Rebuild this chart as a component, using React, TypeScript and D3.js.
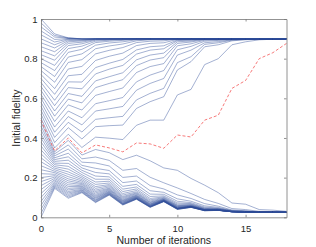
import * as d3 from 'd3';
import { useEffect, useRef } from 'react';

const iterations = [0, 1, 2, 3, 4, 5, 6, 7, 8, 9, 10, 11, 12, 13, 14, 15, 16, 17, 18];

// runs that climb to ~0.9 (initial fidelity 0.50 .. 1.00)
const upperRuns: number[][] = [
  [0.5, 0.35, 0.419, 0.352, 0.404, 0.399, 0.392, 0.464, 0.49, 0.49, 0.617, 0.645, 0.77, 0.8, 0.87, 0.885, 0.895, 0.898, 0.9],
  [0.52, 0.377, 0.452, 0.395, 0.457, 0.462, 0.465, 0.549, 0.583, 0.608, 0.743, 0.785, 0.86, 0.87, 0.89, 0.895, 0.898, 0.9, 0.9],
  [0.54, 0.403, 0.479, 0.43, 0.494, 0.502, 0.509, 0.592, 0.625, 0.65, 0.78, 0.81, 0.872, 0.88, 0.893, 0.897, 0.9, 0.9, 0.9],
  [0.56, 0.429, 0.508, 0.466, 0.536, 0.547, 0.559, 0.641, 0.675, 0.7, 0.818, 0.843, 0.88, 0.886, 0.895, 0.898, 0.9, 0.9, 0.9],
  [0.58, 0.455, 0.536, 0.502, 0.573, 0.588, 0.604, 0.683, 0.717, 0.74, 0.845, 0.862, 0.888, 0.892, 0.897, 0.9, 0.9, 0.9, 0.9],
  [0.6, 0.483, 0.567, 0.541, 0.615, 0.634, 0.652, 0.73, 0.76, 0.775, 0.865, 0.875, 0.893, 0.895, 0.898, 0.9, 0.9, 0.9, 0.9],
  [0.62, 0.51, 0.596, 0.577, 0.654, 0.675, 0.694, 0.765, 0.793, 0.805, 0.877, 0.884, 0.896, 0.897, 0.9, 0.9, 0.9, 0.9, 0.9],
  [0.64, 0.536, 0.624, 0.61, 0.688, 0.709, 0.729, 0.794, 0.818, 0.828, 0.885, 0.889, 0.898, 0.9, 0.9, 0.9, 0.9, 0.9, 0.9],
  [0.66, 0.563, 0.654, 0.648, 0.723, 0.747, 0.766, 0.823, 0.843, 0.85, 0.891, 0.893, 0.899, 0.9, 0.9, 0.9, 0.9, 0.9, 0.9],
  [0.68, 0.59, 0.683, 0.682, 0.755, 0.777, 0.796, 0.844, 0.86, 0.865, 0.894, 0.896, 0.9, 0.9, 0.9, 0.9, 0.9, 0.9, 0.9],
  [0.7, 0.62, 0.714, 0.721, 0.791, 0.812, 0.828, 0.866, 0.877, 0.88, 0.897, 0.898, 0.9, 0.9, 0.9, 0.9, 0.9, 0.9, 0.9],
  [0.72, 0.649, 0.748, 0.761, 0.824, 0.842, 0.856, 0.881, 0.888, 0.89, 0.899, 0.9, 0.9, 0.9, 0.9, 0.9, 0.9, 0.9, 0.9],
  [0.74, 0.681, 0.781, 0.795, 0.85, 0.864, 0.874, 0.89, 0.895, 0.896, 0.9, 0.9, 0.9, 0.9, 0.9, 0.9, 0.9, 0.9, 0.9],
  [0.76, 0.71, 0.808, 0.824, 0.868, 0.879, 0.885, 0.895, 0.897, 0.898, 0.9, 0.9, 0.9, 0.9, 0.9, 0.9, 0.9, 0.9, 0.9],
  [0.78, 0.74, 0.832, 0.847, 0.881, 0.888, 0.892, 0.898, 0.899, 0.9, 0.9, 0.9, 0.9, 0.9, 0.9, 0.9, 0.9, 0.9, 0.9],
  [0.8, 0.766, 0.851, 0.863, 0.888, 0.893, 0.896, 0.899, 0.9, 0.9, 0.9, 0.9, 0.9, 0.9, 0.9, 0.9, 0.9, 0.9, 0.9],
  [0.82, 0.792, 0.866, 0.875, 0.893, 0.896, 0.898, 0.9, 0.9, 0.9, 0.9, 0.9, 0.9, 0.9, 0.9, 0.9, 0.9, 0.9, 0.9],
  [0.84, 0.814, 0.877, 0.883, 0.896, 0.898, 0.899, 0.9, 0.9, 0.9, 0.9, 0.9, 0.9, 0.9, 0.9, 0.9, 0.9, 0.9, 0.9],
  [0.86, 0.835, 0.885, 0.889, 0.898, 0.899, 0.9, 0.9, 0.9, 0.9, 0.9, 0.9, 0.9, 0.9, 0.9, 0.9, 0.9, 0.9, 0.9],
  [0.88, 0.854, 0.891, 0.893, 0.899, 0.9, 0.9, 0.9, 0.9, 0.9, 0.9, 0.9, 0.9, 0.9, 0.9, 0.9, 0.9, 0.9, 0.9],
  [0.9, 0.87, 0.896, 0.895, 0.9, 0.9, 0.9, 0.9, 0.9, 0.9, 0.9, 0.9, 0.9, 0.9, 0.9, 0.9, 0.9, 0.9, 0.9],
  [0.92, 0.884, 0.899, 0.898, 0.9, 0.9, 0.9, 0.9, 0.9, 0.9, 0.9, 0.9, 0.9, 0.9, 0.9, 0.9, 0.9, 0.9, 0.9],
  [0.94, 0.897, 0.901, 0.9, 0.9, 0.9, 0.9, 0.9, 0.9, 0.9, 0.9, 0.9, 0.9, 0.9, 0.9, 0.9, 0.9, 0.9, 0.9],
  [0.96, 0.909, 0.903, 0.9, 0.9, 0.9, 0.9, 0.9, 0.9, 0.9, 0.9, 0.9, 0.9, 0.9, 0.9, 0.9, 0.9, 0.9, 0.9],
  [0.98, 0.917, 0.904, 0.9, 0.9, 0.9, 0.9, 0.9, 0.9, 0.9, 0.9, 0.9, 0.9, 0.9, 0.9, 0.9, 0.9, 0.9, 0.9],
  [1, 0.925, 0.905, 0.9, 0.9, 0.9, 0.9, 0.9, 0.9, 0.9, 0.9, 0.9, 0.9, 0.9, 0.9, 0.9, 0.9, 0.9, 0.9],
];

// runs that sink towards ~0.025 (initial fidelity 0.48 .. 0)
const lowerRuns: number[][] = [
  [0.48, 0.33, 0.388, 0.314, 0.342, 0.326, 0.291, 0.313, 0.285, 0.249, 0.237, 0.196, 0.162, 0.124, 0.072, 0.066, 0.039, 0.036, 0.03],
  [0.46, 0.32, 0.365, 0.295, 0.304, 0.287, 0.237, 0.246, 0.202, 0.174, 0.148, 0.12, 0.09, 0.07, 0.044, 0.039, 0.03, 0.029, 0.027],
  [0.44, 0.31, 0.344, 0.278, 0.274, 0.259, 0.201, 0.208, 0.16, 0.143, 0.113, 0.095, 0.069, 0.056, 0.037, 0.033, 0.027, 0.027, 0.026],
  [0.42, 0.3, 0.323, 0.262, 0.247, 0.236, 0.175, 0.183, 0.134, 0.126, 0.093, 0.081, 0.058, 0.05, 0.034, 0.031, 0.027, 0.026, 0.026],
  [0.4, 0.291, 0.305, 0.249, 0.226, 0.219, 0.156, 0.166, 0.117, 0.116, 0.081, 0.074, 0.052, 0.046, 0.033, 0.03, 0.026, 0.026, 0.025],
  [0.38, 0.282, 0.288, 0.237, 0.208, 0.204, 0.142, 0.153, 0.105, 0.108, 0.073, 0.069, 0.048, 0.044, 0.032, 0.029, 0.026, 0.025, 0.025],
  [0.36, 0.273, 0.272, 0.226, 0.192, 0.192, 0.13, 0.143, 0.095, 0.103, 0.067, 0.066, 0.045, 0.042, 0.031, 0.028, 0.026, 0.026, 0.025],
  [0.34, 0.265, 0.257, 0.215, 0.178, 0.182, 0.12, 0.135, 0.088, 0.099, 0.062, 0.063, 0.043, 0.041, 0.03, 0.027, 0.026, 0.025, 0.025],
  [0.32, 0.256, 0.243, 0.206, 0.166, 0.173, 0.112, 0.128, 0.082, 0.096, 0.059, 0.061, 0.041, 0.04, 0.03, 0.027, 0.025, 0.025, 0.025],
  [0.3, 0.248, 0.229, 0.198, 0.155, 0.165, 0.105, 0.123, 0.077, 0.093, 0.056, 0.059, 0.04, 0.039, 0.029, 0.026, 0.025, 0.025, 0.025],
  [0.28, 0.24, 0.217, 0.19, 0.146, 0.159, 0.1, 0.119, 0.074, 0.091, 0.054, 0.058, 0.039, 0.038, 0.029, 0.026, 0.025, 0.025, 0.025],
  [0.26, 0.232, 0.205, 0.183, 0.137, 0.153, 0.095, 0.115, 0.07, 0.089, 0.052, 0.056, 0.038, 0.037, 0.029, 0.026, 0.025, 0.025, 0.025],
  [0.24, 0.225, 0.194, 0.176, 0.13, 0.147, 0.09, 0.111, 0.067, 0.088, 0.05, 0.055, 0.037, 0.036, 0.029, 0.026, 0.025, 0.025, 0.025],
  [0.22, 0.217, 0.184, 0.17, 0.123, 0.143, 0.086, 0.109, 0.065, 0.087, 0.048, 0.055, 0.037, 0.036, 0.028, 0.026, 0.025, 0.025, 0.025],
  [0.2, 0.21, 0.174, 0.165, 0.116, 0.139, 0.083, 0.106, 0.063, 0.086, 0.047, 0.054, 0.036, 0.036, 0.028, 0.026, 0.025, 0.025, 0.025],
  [0.18, 0.203, 0.164, 0.159, 0.11, 0.135, 0.08, 0.104, 0.061, 0.084, 0.046, 0.054, 0.036, 0.036, 0.028, 0.026, 0.025, 0.025, 0.025],
  [0.16, 0.196, 0.155, 0.155, 0.105, 0.131, 0.077, 0.102, 0.059, 0.084, 0.045, 0.053, 0.036, 0.036, 0.028, 0.026, 0.025, 0.025, 0.025],
  [0.14, 0.189, 0.146, 0.15, 0.1, 0.128, 0.075, 0.1, 0.058, 0.083, 0.045, 0.053, 0.035, 0.036, 0.028, 0.026, 0.025, 0.025, 0.025],
  [0.12, 0.183, 0.138, 0.146, 0.096, 0.125, 0.072, 0.098, 0.056, 0.082, 0.044, 0.052, 0.035, 0.036, 0.028, 0.025, 0.025, 0.025, 0.025],
  [0.1, 0.176, 0.13, 0.141, 0.091, 0.123, 0.07, 0.097, 0.055, 0.082, 0.044, 0.052, 0.035, 0.036, 0.028, 0.025, 0.025, 0.025, 0.025],
  [0.08, 0.17, 0.123, 0.137, 0.087, 0.12, 0.068, 0.095, 0.054, 0.081, 0.043, 0.052, 0.035, 0.036, 0.028, 0.025, 0.025, 0.025, 0.025],
  [0.06, 0.164, 0.116, 0.134, 0.084, 0.118, 0.067, 0.094, 0.053, 0.081, 0.042, 0.051, 0.034, 0.035, 0.028, 0.025, 0.025, 0.025, 0.025],
  [0.04, 0.158, 0.109, 0.13, 0.08, 0.116, 0.065, 0.093, 0.052, 0.08, 0.041, 0.051, 0.034, 0.035, 0.028, 0.025, 0.025, 0.025, 0.025],
  [0.02, 0.152, 0.102, 0.127, 0.077, 0.114, 0.063, 0.092, 0.051, 0.079, 0.04, 0.05, 0.033, 0.035, 0.028, 0.025, 0.025, 0.025, 0.025],
  [0, 0.146, 0.096, 0.124, 0.074, 0.112, 0.062, 0.091, 0.05, 0.079, 0.04, 0.05, 0.033, 0.035, 0.028, 0.025, 0.025, 0.025, 0.025],
];

// dashed red run
const redRun = [0.49, 0.335, 0.4, 0.325, 0.365, 0.35, 0.33, 0.375, 0.37, 0.348, 0.415, 0.405, 0.49, 0.515, 0.65, 0.69, 0.8, 0.83, 0.877];

const xTicks = [0, 5, 10, 15];
const yTicks = [0, 0.2, 0.4, 0.6, 0.8, 1];

const FONT = '"Liberation Sans", Arial, Helvetica, sans-serif';
const INK = '#262626';

function App() {
  const svgRef = useRef<SVGSVGElement>(null);

  useEffect(() => {
    if (!svgRef.current) {
      return;
    }
    const svg = d3.select(svgRef.current);
    svg.selectAll('*').remove();

    const x = d3.scaleLinear().domain([0, 18]).range([41, 286.5]);
    const y = d3.scaleLinear().domain([0, 1]).range([217.3, 19]);

    const line = d3
      .line<number>()
      .x((_, i) => x(iterations[i]))
      .y((d) => y(d));

    const plot = svg.append('g');

    // translucent strokes so that bundled runs darken like the original
    [...lowerRuns, ...upperRuns].forEach((run) => {
      plot
        .append('path')
        .attr('d', line(run))
        .attr('fill', 'none')
        .attr('stroke', '#2d4c97')
        .attr('stroke-opacity', 0.55)
        .attr('stroke-width', 0.8);
    });

    plot
      .append('path')
      .attr('d', line(redRun))
      .attr('fill', 'none')
      .attr('stroke', '#f23a3a')
      .attr('stroke-opacity', 0.85)
      .attr('stroke-width', 0.8)
      .attr('stroke-dasharray', '3,2');

    // box axes, ticks pointing inwards
    const styleAxis = (sel: d3.Selection<SVGGElement, unknown, null, undefined>) => {
      sel.attr('color', INK).style('font-family', FONT).style('font-size', '9.5px');
      sel.select('.domain').attr('stroke', '#777').attr('stroke-width', 0.8);
      sel.selectAll('.tick line').attr('stroke', '#777').attr('stroke-width', 0.8);
    };

    svg
      .append('g')
      .attr('transform', `translate(0,${y(0)})`)
      .call(d3.axisBottom(x).tickValues(xTicks).tickSize(-2.5).tickSizeOuter(0).tickPadding(8).tickFormat(d3.format('d')))
      .call(styleAxis);

    svg
      .append('g')
      .attr('transform', `translate(0,${y(1)})`)
      .call(d3.axisTop(x).tickValues(xTicks).tickSize(-2.5).tickSizeOuter(0).tickFormat(() => ''))
      .call(styleAxis);

    svg
      .append('g')
      .attr('transform', `translate(${x(0)},0)`)
      .call(d3.axisLeft(y).tickValues(yTicks).tickSize(-2.5).tickSizeOuter(0).tickPadding(3.5).tickFormat((d) => `${d}`))
      .call(styleAxis);

    svg
      .append('g')
      .attr('transform', `translate(${x(18)},0)`)
      .call(d3.axisRight(y).tickValues(yTicks).tickSize(-2.5).tickSizeOuter(0).tickFormat(() => ''))
      .call(styleAxis);

    svg
      .append('text')
      .attr('x', (x(0) + x(18)) / 2)
      .attr('y', 244)
      .attr('text-anchor', 'middle')
      .attr('fill', INK)
      .style('font-family', FONT)
      .style('font-size', '10.5px')
      .text('Number of iterations');

    svg
      .append('text')
      .attr('transform', `translate(19.5,${(y(0) + y(1)) / 2}) rotate(-90)`)
      .attr('text-anchor', 'middle')
      .attr('fill', INK)
      .style('font-family', FONT)
      .style('font-size', '10.5px')
      .text('Initial fidelity');
  }, []);

  return (
    <svg
      ref={svgRef}
      width={316}
      height={247}
      style={{ position: 'absolute', left: 0, top: 0, background: '#fff' }}
    />
  );
}

export default App;
